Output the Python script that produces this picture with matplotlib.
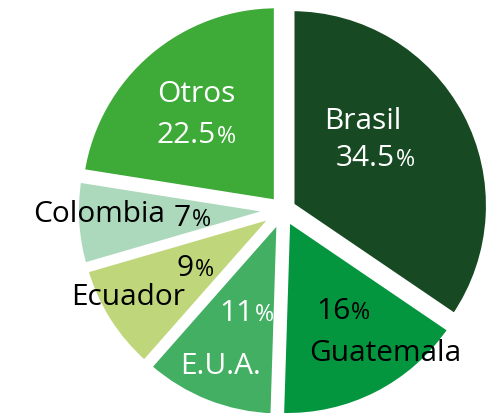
import matplotlib
matplotlib.use("Agg")
import matplotlib.pyplot as plt

labels = ["Brasil", "Guatemala", "E.U.A.", "Ecuador", "Colombia", "Otros"]
values = [34.5, 16, 11, 9, 7, 22.5]
colors = ["#174a23", "#03963f", "#43af63", "#bfd67a", "#acd8bc", "#3eaa37"]

plt.rcParams['font.family'] = ['Open Sans', 'DejaVu Sans']

fig = plt.figure(figsize=(4.91, 4.13), dpi=100)
ax = fig.add_axes([0, 0, 1, 1])
ax.pie(values, colors=colors, startangle=90, counterclock=False,
       explode=[0.05] * len(values),
       wedgeprops=dict(edgecolor="white", linewidth=4))

s = 197.0
cx, cy = 283.0, 210.0
ax.set_xlim(-cx / s, (491 - cx) / s)
ax.set_ylim(-(413 - cy) / s, cy / s)
ax.set_aspect('auto')
ax.axis('off')

fs = 21.5
fig.canvas.draw()
renderer = fig.canvas.get_renderer()

def t(x, y, txt, color):
    ax.text(x, y, txt, color=color, fontsize=fs, ha='center', va='center')

def tp(x, y, main, color):
    # number plus a smaller percent sign, centred as a group
    a = ax.text(0, 0, main, color=color, fontsize=fs, ha='left', va='baseline')
    b = ax.text(0, 0, "%", color=color, fontsize=fs * 0.78, ha='left', va='baseline')
    wa = a.get_window_extent(renderer).width
    wb = b.get_window_extent(renderer).width
    total = wa + wb + 1
    px0, py0 = ax.transData.transform((x, y))
    capoff = fs * 100 / 72 * 0.36
    x0 = px0 - total / 2
    yb = py0 - capoff
    inv = ax.transData.inverted()
    a.set_position(inv.transform((x0, yb)))
    b.set_position(inv.transform((x0 + wa + 1, yb)))

t(0.406, 0.449, labels[0], "white")
tp(0.467, 0.279, f"{values[0]}", "white")
t(-0.442, 0.587, labels[5], "white")
tp(-0.442, 0.393, f"{values[5]}", "white")
t(-0.935, -0.025, labels[4], "black")
tp(-0.46, -0.025, f"{values[4]}", "black")
tp(-0.447, -0.279, f"{values[3]}", "black")
t(-0.787, -0.442, labels[3], "black")
tp(-0.183, -0.508, f"{values[2]}", "white")
t(-0.315, -0.792, labels[2], "white")
tp(0.305, -0.498, f"{values[1]}", "black")
t(0.518, -0.726, labels[1], "black")

fig.savefig("out.png", dpi=100)
